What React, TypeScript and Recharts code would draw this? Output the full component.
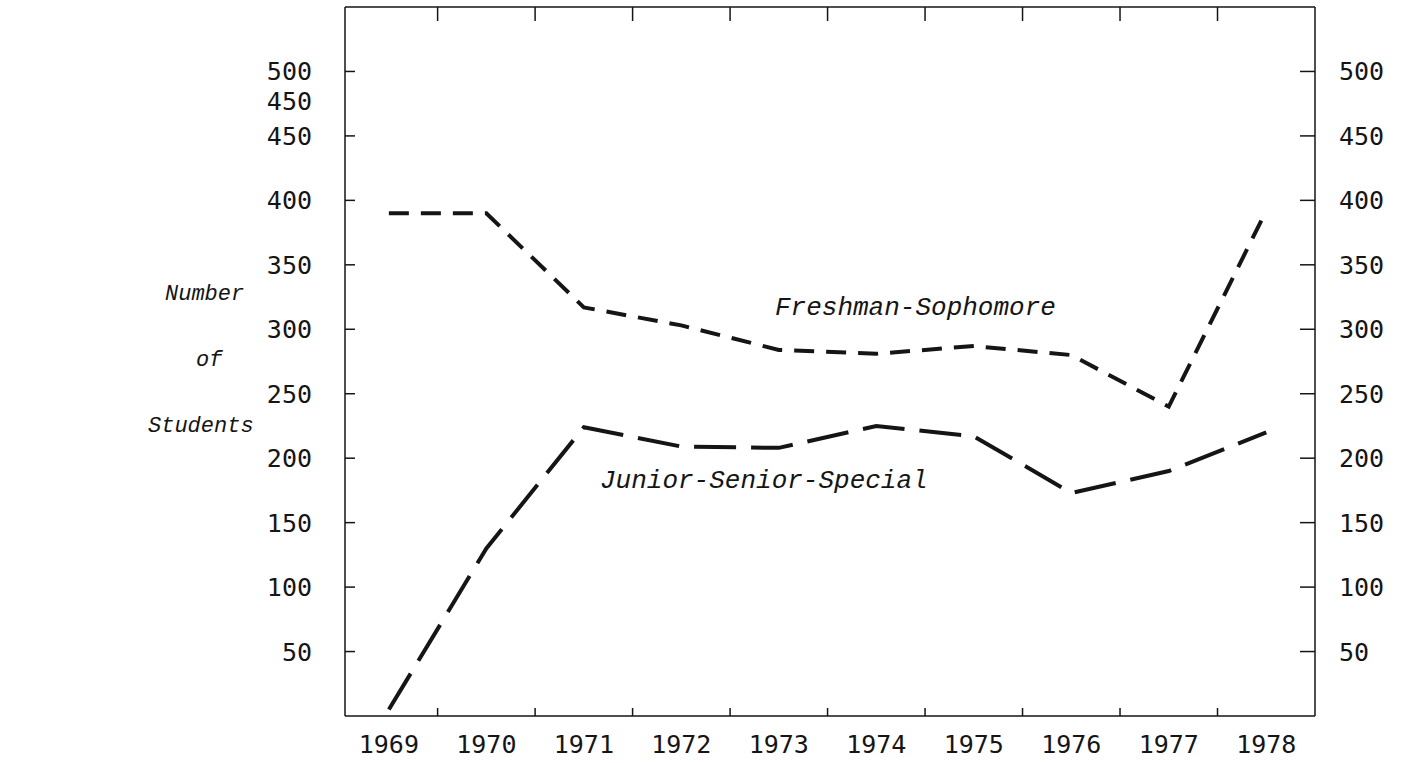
import { LineChart, Line, XAxis, YAxis } from 'recharts';

const years = [1969, 1970, 1971, 1972, 1973, 1974, 1975, 1976, 1977, 1978];
const freshmanSophomore = [390, 390, 317, 303, 284, 281, 287, 280, 240, 392];
const juniorSeniorSpecial = [5, 130, 224, 209, 208, 225, 217, 173, 190, 220];

// tick marks sit between the years
const yearBreaks = [1969.5, 1970.5, 1971.5, 1972.5, 1973.5, 1974.5, 1975.5, 1976.5, 1977.5];
const rightTicks = [50, 100, 150, 200, 250, 300, 350, 400, 450, 500];
// the left scale repeats "450" (as printed)
const leftTicks = [50, 100, 150, 200, 250, 300, 350, 400, 450, 477, 500];
const leftTickLabels = ['50', '100', '150', '200', '250', '300', '350', '400', '450', '450', '500'];

const data = years.map((year, i) => ({
  year,
  freshman: freshmanSophomore[i],
  junior: juniorSeniorSpecial[i],
}));

const INK = '#151515';
const NUM_FONT = '"DejaVu Sans Mono", monospace';
const ITALIC_FONT = '"Liberation Mono", monospace';
const LEFT_GAP = 33;
const RIGHT_GAP = 24;
const X_DOMAIN = [1968.55, 1978.5];
const Y_DOMAIN = [0, 550];

const LeftTick = (props: any) => {
  const x = Number(props.x);
  const y = Number(props.y);
  const v = props.payload.value;
  const i = leftTicks.indexOf(v);
  const marked = rightTicks.includes(v);
  return (
    <g>
      {marked && (
        <line x1={x + LEFT_GAP} x2={x + LEFT_GAP + 10} y1={y} y2={y} stroke={INK} strokeWidth={1.5} />
      )}
      <text x={x} y={y} dy="0.36em" textAnchor="end" fontFamily={NUM_FONT} fontSize={25} fill={INK}>
        {leftTickLabels[i]}
      </text>
    </g>
  );
};

const RightTick = (props: any) => {
  const x = Number(props.x);
  const y = Number(props.y);
  return (
    <g>
      <line x1={x - RIGHT_GAP} x2={x - RIGHT_GAP - 15} y1={y} y2={y} stroke={INK} strokeWidth={1.5} />
      <text x={x} y={y} dy="0.36em" textAnchor="start" fontFamily={NUM_FONT} fontSize={25} fill={INK}>
        {props.payload.value}
      </text>
    </g>
  );
};

const BottomTick = (props: any) => {
  const x = Number(props.x);
  const y = Number(props.y);
  const v = props.payload.value;
  if (!Number.isInteger(v)) {
    return <line x1={x} x2={x} y1={y} y2={y - 8} stroke={INK} strokeWidth={1.5} />;
  }
  return (
    <text x={x} y={y + 37} textAnchor="middle" fontFamily={NUM_FONT} fontSize={25} fill={INK}>
      {v}
    </text>
  );
};

const TopTick = (props: any) => {
  const x = Number(props.x);
  const y = Number(props.y);
  return <line x1={x} x2={x} y1={y} y2={y + 14} stroke={INK} strokeWidth={1.5} />;
};

const italicText = {
  fontFamily: ITALIC_FONT,
  fontStyle: 'italic' as const,
  fontSize: 26,
  fill: INK,
};

export default function App() {
  return (
    <div style={{ position: 'absolute', left: 0, top: 0, width: 1403, height: 763, background: '#fff' }}>
      <LineChart width={1403} height={763} data={data} margin={{ top: 6, right: 0, bottom: 0, left: 265 }}>
        <XAxis
          xAxisId="x"
          dataKey="year"
          type="number"
          domain={X_DOMAIN}
          ticks={[...years, ...yearBreaks]}
          interval={0}
          height={47}
          tickSize={0}
          tickMargin={0}
          tickLine={false}
          axisLine={{ stroke: INK, strokeWidth: 1.5 }}
          tick={<BottomTick />}
        />
        <XAxis
          xAxisId="top"
          dataKey="year"
          orientation="top"
          type="number"
          domain={X_DOMAIN}
          ticks={yearBreaks}
          interval={0}
          height={1}
          tickSize={0}
          tickMargin={0}
          tickLine={false}
          axisLine={{ stroke: INK, strokeWidth: 1.5 }}
          tick={<TopTick />}
        />
        <YAxis
          yAxisId="left"
          type="number"
          domain={Y_DOMAIN}
          ticks={leftTicks}
          interval={0}
          width={80}
          tickSize={0}
          tickMargin={LEFT_GAP}
          tickLine={false}
          axisLine={{ stroke: INK, strokeWidth: 1.5 }}
          tick={<LeftTick />}
        />
        <YAxis
          yAxisId="right"
          orientation="right"
          type="number"
          domain={Y_DOMAIN}
          ticks={rightTicks}
          interval={0}
          width={88}
          tickSize={0}
          tickMargin={RIGHT_GAP}
          tickLine={false}
          axisLine={{ stroke: INK, strokeWidth: 1.5 }}
          tick={<RightTick />}
        />
        <Line
          xAxisId="top"
          yAxisId="left"
          type="linear"
          dataKey="freshman"
          name="Freshman-Sophomore"
          stroke={INK}
          strokeWidth={4}
          strokeDasharray="20 12"
          dot={false}
          isAnimationActive={false}
        />
        <Line
          xAxisId="x"
          yAxisId="right"
          type="linear"
          dataKey="junior"
          name="Junior-Senior-Special"
          stroke={INK}
          strokeWidth={4}
          strokeDasharray="42 15"
          dot={false}
          isAnimationActive={false}
        />
      </LineChart>
      <svg
        width={1403}
        height={763}
        style={{ position: 'absolute', left: 0, top: 0, pointerEvents: 'none' }}
      >
        <text x={775} y={315} {...italicText}>Freshman-Sophomore</text>
        <text x={600} y={488} {...italicText}>Junior-Senior-Special</text>
        <text x={165} y={300} {...italicText} fontSize={22}>Number</text>
        <text x={196} y={366} {...italicText} fontSize={22}>of</text>
        <text x={148} y={432} {...italicText} fontSize={22}>Students</text>
      </svg>
    </div>
  );
}
